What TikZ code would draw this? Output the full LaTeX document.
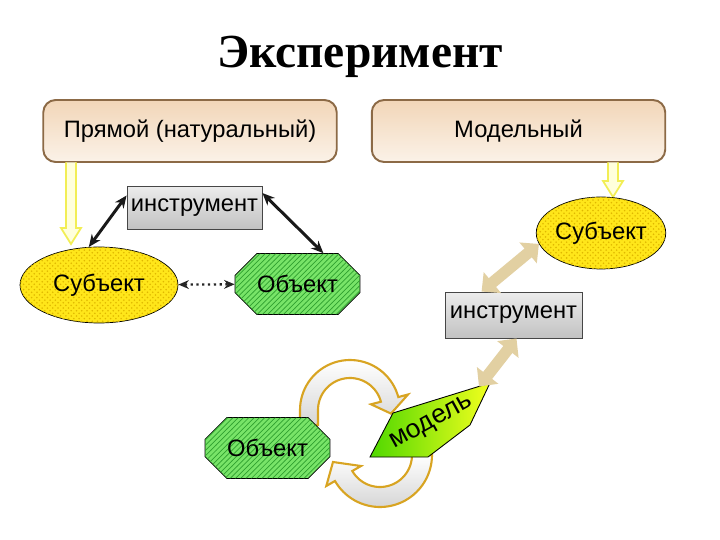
\documentclass[tikz,border=0pt]{standalone}
\usepackage{fontspec}
\setmainfont{Liberation Sans}
\newfontfamily\titlefont{Liberation Serif}
\usetikzlibrary{arrows.meta, positioning, shapes.geometric, shapes.misc, patterns, calc}
\definecolor{boxedge}{HTML}{8C6A46}
\definecolor{boxtop}{HTML}{F2D6B8}
\definecolor{boxbot}{HTML}{FBF2E8}
\definecolor{subjyellow}{HTML}{FFE61A}
\definecolor{subjdots}{HTML}{E0B800}
\definecolor{objgreen}{HTML}{78E468}
\definecolor{objhatch}{HTML}{2FA02F}
\definecolor{hollowline}{HTML}{F2EE55}
\definecolor{hollowfill}{HTML}{FFFFDC}
\definecolor{tanarrow}{HTML}{E2D0A2}
\definecolor{cycgold}{HTML}{D8A422}
\definecolor{modgreen}{HTML}{4FD800}
\definecolor{modyellow}{HTML}{F2FF1E}
\newcommand{\lbl}{\fontsize{13.5}{16}\selectfont}
% hollow yellow arrow pointing down: x, ytop, ybottom
\newcommand{\hollowdown}[3]{%
  \draw[hollow] ({#1-5},{#2}) -- ({#1-5},{#3-16}) -- ({#1-10},{#3-16}) -- ({#1},{#3})
    -- ({#1+10},{#3-16}) -- ({#1+5},{#3-16}) -- ({#1+5},{#2});
}
\tikzset{
  kindbox/.style={rounded corners=7pt, draw=boxedge, line width=1.1pt,
    top color=boxtop, bottom color=boxbot, minimum width=5.87cm,
    minimum height=1.24cm, font=\lbl},
  toolbox/.style={draw=gray!55!black, line width=0.5pt, top color=gray!15,
    bottom color=gray!48, font=\lbl, inner sep=1pt},
  subjell/.style={ellipse, draw=black, line width=0.4pt, fill=subjyellow,
    postaction={pattern=crosshatch dots, pattern color=subjdots},
    inner sep=0pt, font=\lbl},
  objoct/.style={chamfered rectangle, chamfered rectangle xsep=0.26cm,
    chamfered rectangle ysep=0.26cm, draw=black, line width=0.4pt,
    fill=objgreen, postaction={pattern=north east lines, pattern color=objhatch},
    minimum width=2.5cm, minimum height=1.22cm, inner sep=0pt, font=\lbl},
  hollow/.style={draw=hollowline, fill=hollowfill, line width=1pt},
  blackdbl/.style={{Stealth[length=7pt,width=6pt]}-{Stealth[length=7pt,width=6pt]},
    line width=1.7pt, black!90},
  dotdbl/.style={{Stealth[length=6pt,width=5pt]}-{Stealth[length=6pt,width=5pt]},
    line width=1.3pt, dotted, black!85},
  tanarr/.style={{Triangle[length=8pt,width=15pt]}-{Triangle[length=8pt,width=15pt]},
    line width=6.5pt, tanarrow},
  cycarrow/.style={draw=cycgold, line width=1.2pt, top color=white, bottom color=gray!32},
  modshape/.style={draw=black, line width=0.5pt, left color=modgreen, right color=modyellow}
}

\begin{document}
\begin{tikzpicture}[x=0.02cm, y=-0.02cm]
  \useasboundingbox (0,0) rectangle (720,540);

  % title and the two kinds of experiment
  \node[font=\titlefont\bfseries\fontsize{27}{32}\selectfont] (title) at (360,57) {Эксперимент};
  \node[kindbox] (pryam) at (190,131) {Прямой (натуральный)};
  \node[kindbox] (modbox) at (518.5,131) {Модельный};

  \hollowdown{71}{162.5}{244}
  \hollowdown{613}{162.5}{197}

  % ===== direct experiment =====
  \node[toolbox, minimum width=2.7cm, minimum height=0.86cm] (tool1) at (194.5,207.5) {инструмент};
  \node[subjell, minimum width=3.16cm, minimum height=1.52cm] (subj1) at (99,285) {Субъект};
  \node[objoct] (obj1) at (297.5,284) {Объект};

  \draw[blackdbl] (tool1.170) -- (subj1.105);
  \draw[blackdbl] (tool1.12) -- (obj1.50);
  \draw[dotdbl] (subj1) -- (obj1);

  % ===== model experiment =====
  \node[subjell, minimum width=2.56cm, minimum height=1.44cm] (subj2) at (601,233) {Субъект};
  \node[toolbox, minimum width=2.74cm, minimum height=0.92cm] (tool2) at (513.5,315) {инструмент};

  % cycle arrows between object and model
  \filldraw[cycarrow] (300,425) -- plot[domain=180:345, samples=40] ({350+50*cos(\x)},{410+50*sin(\x)})
    -- (408,394.5) -- (391,413.6) -- (371,404.3)
    -- plot[domain=345:180, samples=40] ({350+32*cos(\x)},{410+32*sin(\x)}) -- (318,425) -- cycle;
  \filldraw[cycarrow] plot[domain=0:150, samples=40] ({380+52*cos(\x)},{455+52*sin(\x)})
    -- (326.3,486) -- (333,462) -- (361,466)
    -- plot[domain=150:0, samples=40] ({380+32*cos(\x)},{455+32*sin(\x)}) -- cycle;

  \node[objoct] (obj2) at (267.5,448) {Объект};

  \draw[modshape] (370,457) -- (393,413) -- (490,383) -- (470,425) -- (428,457) -- cycle;
  \coordinate (mtop) at (479,386.5);
  \node[rotate=29, font=\fontsize{15}{18}\selectfont] (modl) at (432,423) {модель};

  \draw[tanarr] ($(tool2.north west)+(37,0)$) -- (subj2.190);
  \draw[tanarr] ($(tool2.south)+(3,0)$) -- (mtop);
\end{tikzpicture}
\end{document}
